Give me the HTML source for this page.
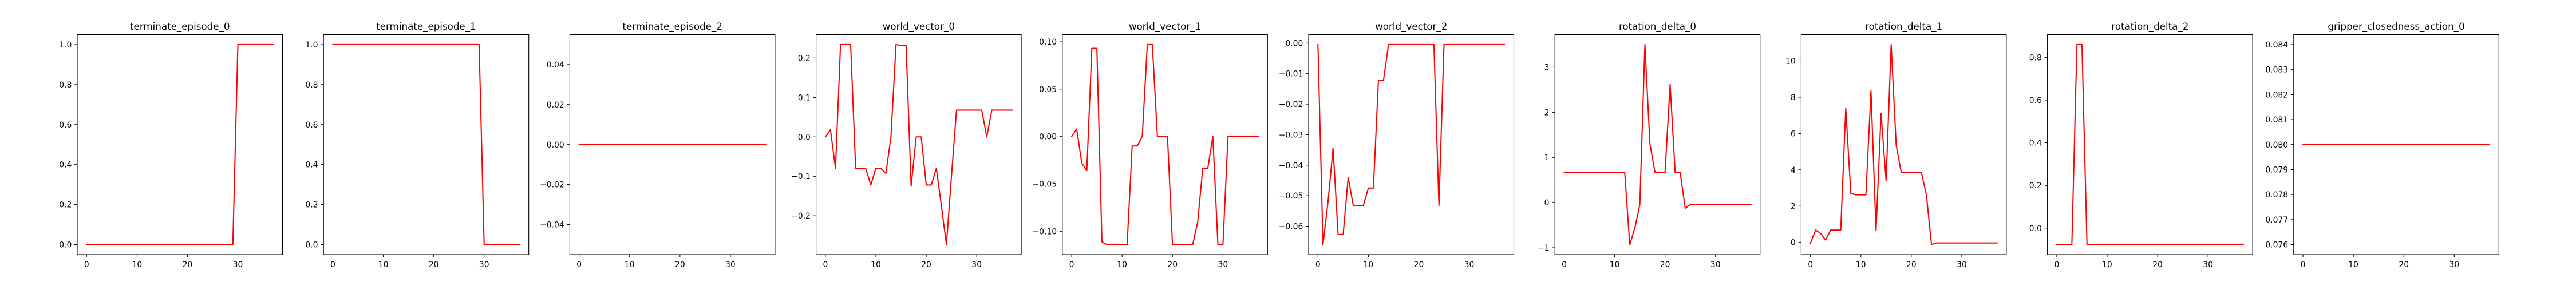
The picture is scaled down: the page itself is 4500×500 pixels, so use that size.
<!DOCTYPE html>
<html><head><meta charset="utf-8">
<style>
html,body{margin:0;padding:0;background:#fff;}
svg{display:block;font-family:"DejaVu Sans","Liberation Sans",sans-serif;}
</style></head>
<body>
<svg id="fig" width="4500" height="500" viewBox="0 0 4500 500" xmlns="http://www.w3.org/2000/svg">
<rect width="4500" height="500" fill="#fff"/>
</svg>
<script>
const titles = ["terminate_episode_0","terminate_episode_1","terminate_episode_2","world_vector_0","world_vector_1","world_vector_2","rotation_delta_0","rotation_delta_1","rotation_delta_2","gripper_closedness_action_0"];
const terminate0 = [0,0,0,0,0,0,0,0,0,0,0,0,0,0,0,0,0,0,0,0,0,0,0,0,0,0,0,0,0,0,1,1,1,1,1,1,1,1];
const terminate1 = [1,1,1,1,1,1,1,1,1,1,1,1,1,1,1,1,1,1,1,1,1,1,1,1,1,1,1,1,1,1,0,0,0,0,0,0,0,0];
const terminate2 = [0,0,0,0,0,0,0,0,0,0,0,0,0,0,0,0,0,0,0,0,0,0,0,0,0,0,0,0,0,0,0,0,0,0,0,0,0,0];
const worldVector0 = [0,0.018,-0.08,0.234,0.234,0.234,-0.08,-0.08,-0.08,-0.122,-0.08,-0.08,-0.092,0,0.234,0.232,0.232,-0.125,0,0,-0.122,-0.122,-0.08,-0.175,-0.273,-0.1,0.068,0.068,0.068,0.068,0.068,0.068,0,0.068,0.068,0.068,0.068,0.068];
const worldVector1 = [0,0.008,-0.028,-0.036,0.093,0.093,-0.111,-0.114,-0.114,-0.114,-0.114,-0.114,-0.01,-0.01,0,0.097,0.097,0,0,0,-0.114,-0.114,-0.114,-0.114,-0.114,-0.09,-0.0335,-0.0335,0,-0.114,-0.114,0,0,0,0,0,0,0];
const worldVector2 = [-0.0005,-0.066,-0.052,-0.0345,-0.0627,-0.0627,-0.044,-0.0532,-0.0532,-0.0532,-0.0475,-0.0475,-0.0122,-0.0122,-0.0005,-0.0005,-0.0005,-0.0005,-0.0005,-0.0005,-0.0005,-0.0005,-0.0005,-0.0005,-0.0532,-0.0005,-0.0005,-0.0005,-0.0005,-0.0005,-0.0005,-0.0005,-0.0005,-0.0005,-0.0005,-0.0005,-0.0005,-0.0005];
const rotationDelta0 = [0.67,0.67,0.67,0.67,0.67,0.67,0.67,0.67,0.67,0.67,0.67,0.67,0.67,-0.93,-0.57,-0.04,3.5,1.3,0.67,0.67,0.67,2.62,0.67,0.67,-0.13,-0.04,-0.04,-0.04,-0.04,-0.04,-0.04,-0.04,-0.04,-0.04,-0.04,-0.04,-0.04,-0.04];
const rotationDelta1 = [-0.04,0.68,0.5,0.13,0.68,0.68,0.68,7.4,2.7,2.62,2.62,2.62,8.35,0.65,7.1,3.4,10.9,5.35,3.85,3.85,3.85,3.85,3.85,2.6,-0.12,-0.03,-0.03,-0.03,-0.03,-0.03,-0.03,-0.03,-0.03,-0.03,-0.03,-0.03,-0.03,-0.03];
const rotationDelta2 = [-0.077,-0.077,-0.077,-0.077,0.86,0.86,-0.077,-0.077,-0.077,-0.077,-0.077,-0.077,-0.077,-0.077,-0.077,-0.077,-0.077,-0.077,-0.077,-0.077,-0.077,-0.077,-0.077,-0.077,-0.077,-0.077,-0.077,-0.077,-0.077,-0.077,-0.077,-0.077,-0.077,-0.077,-0.077,-0.077,-0.077,-0.077];
const gripper0 = [0.08,0.08,0.08,0.08,0.08,0.08,0.08,0.08,0.08,0.08,0.08,0.08,0.08,0.08,0.08,0.08,0.08,0.08,0.08,0.08,0.08,0.08,0.08,0.08,0.08,0.08,0.08,0.08,0.08,0.08,0.08,0.08,0.08,0.08,0.08,0.08,0.08,0.08];
const xTicks = [0,10,20,30];
const yTicks0 = [0,0.2,0.4,0.6,0.8,1.0];
const yTicks2 = [-0.04,-0.02,0,0.02,0.04];
const yTicks3 = [-0.2,-0.1,0,0.1,0.2];
const yTicks4 = [-0.10,-0.05,0,0.05,0.10];
const yTicks5 = [-0.06,-0.05,-0.04,-0.03,-0.02,-0.01,0];
const yTicks6 = [-1,0,1,2,3];
const yTicks7 = [0,2,4,6,8,10];
const yTicks8 = [0,0.2,0.4,0.6,0.8];
const yTicks9 = [0.076,0.077,0.078,0.079,0.080,0.081,0.082,0.083,0.084];

const series = [terminate0,terminate1,terminate2,worldVector0,worldVector1,worldVector2,rotationDelta0,rotationDelta1,rotationDelta2,gripper0];
const yTickSets = [yTicks0,yTicks0,yTicks2,yTicks3,yTicks4,yTicks5,yTicks6,yTicks7,yTicks8,yTicks9];
const decimals = [1,1,2,1,2,2,0,0,1,3];

const NS = "http://www.w3.org/2000/svg";
const svg = document.getElementById('fig');
function mk(tag, attrs, parent){const e=document.createElementNS(NS,tag);for(const k in attrs)e.setAttribute(k,attrs[k]);parent.appendChild(e);return e;}
const TOP=60.5, BOT=445, W=358.5;
series.forEach((data,i)=>{
  const L = 135 + i*430.2, R = L+W;
  const g = mk('g',{},svg);
  
  
  const n = data.length;
  let x0=0, x1=n-1; const xm=(x1-x0)*0.05; x0-=xm; x1+=xm;
  let lo=Math.min(...data), hi=Math.max(...data);
  if(hi-lo<1e-12){ const d = lo===0?0.05:Math.abs(lo)*0.05; lo-=d; hi+=d; }
  const ym=(hi-lo)*0.05; lo-=ym; hi+=ym;
  const sx=v=>L+(v-x0)/(x1-x0)*W;
  const sy=v=>BOT-(v-lo)/(hi-lo)*(BOT-TOP);
  // line
  const pts=data.map((v,k)=>sx(k).toFixed(2)+','+sy(v).toFixed(2)).join(' ');
  const pl = mk('polyline',{points:pts,fill:'none',stroke:'#ff0000','stroke-width':2.1,'stroke-linejoin':'round','stroke-linecap':'square'},g);
  
  
  // frame
  const fr = mk('rect',{x:L,y:TOP,width:W,height:BOT-TOP,fill:'none',stroke:'#000','stroke-width':1.1},g);
  
  
  // title
  const t = mk('text',{x:L+W/2,y:52,'text-anchor':'middle','font-size':16.7,fill:'#000'},g);
  t.textContent = titles[i];
  
  
  // x ticks
  xTicks.forEach(v=>{
    const x=sx(v);
    mk('line',{x1:x,y1:BOT,x2:x,y2:BOT+4.9,stroke:'#000','stroke-width':1.1},g);
    const tl = mk('text',{x:x,y:467,'text-anchor':'middle','font-size':13.9,fill:'#000'},g);
    tl.textContent=String(v);
    
    
  });
  // y ticks
  yTickSets[i].forEach(v=>{
    const y=sy(v);
    mk('line',{x1:L-4.9,y1:y,x2:L,y2:y,stroke:'#000','stroke-width':1.1},g);
    let s = Math.abs(v).toFixed(decimals[i]);
    if(v < -1e-12) s = '\u2212'+s;
    const tl = mk('text',{x:L-9.7,y:y+5,'text-anchor':'end','font-size':13.9,fill:'#000'},g);
    tl.textContent=s;
    
    
  });
});
</script>
</body></html>
